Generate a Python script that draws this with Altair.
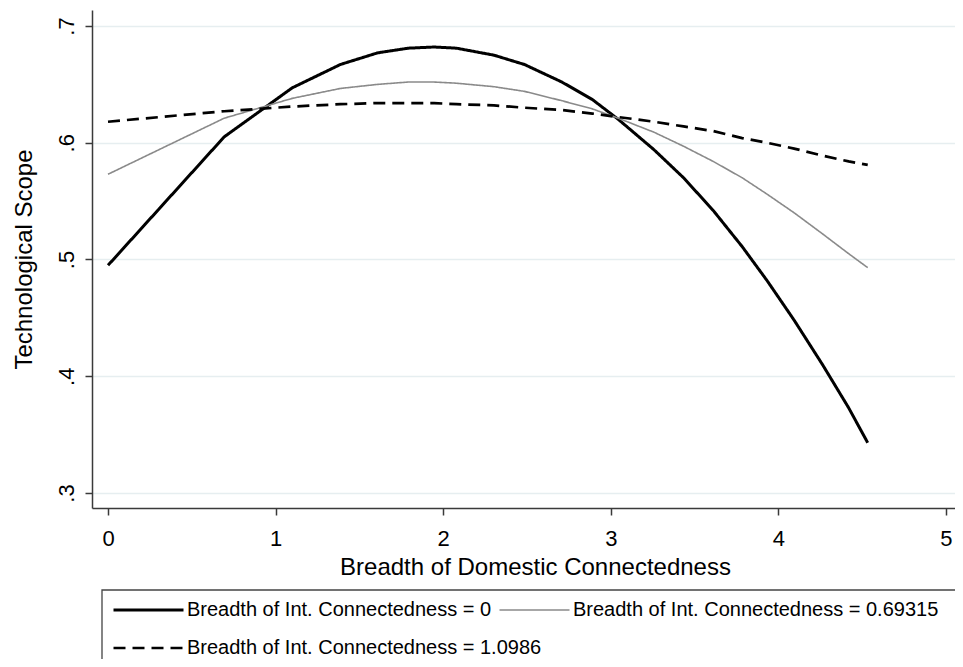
import altair as alt
import pandas as pd

# Breadth of Domestic Connectedness (x positions of the predicted points)
x_vals = [0.0, 0.693, 1.099, 1.386, 1.609, 1.792, 1.946, 2.079, 2.303, 2.485, 2.708,
          2.890, 3.045, 3.258, 3.434, 3.611, 3.784, 3.932, 4.094, 4.263, 4.419, 4.533]

# Technological Scope, one list per level of international connectedness
scope_int_0 = [0.495, 0.605, 0.647, 0.667, 0.677, 0.681, 0.682, 0.681, 0.675, 0.667, 0.652,
               0.637, 0.620, 0.594, 0.570, 0.542, 0.511, 0.482, 0.448, 0.410, 0.373, 0.343]
scope_int_069 = [0.573, 0.621, 0.638, 0.6465, 0.650, 0.652, 0.652, 0.651, 0.648, 0.644, 0.636,
                 0.629, 0.621, 0.609, 0.597, 0.584, 0.570, 0.556, 0.540, 0.522, 0.505, 0.493]
scope_int_110 = [0.618, 0.627, 0.631, 0.633, 0.634, 0.634, 0.634, 0.633, 0.632, 0.630, 0.628,
                 0.625, 0.622, 0.618, 0.614, 0.610, 0.604, 0.600, 0.595, 0.589, 0.584, 0.581]

series_labels = ["Breadth of Int. Connectedness = 0",
                 "Breadth of Int. Connectedness = 0.69315",
                 "Breadth of Int. Connectedness = 1.0986"]
x_ticks = [0, 1, 2, 3, 4, 5]
y_ticks = [0.3, 0.4, 0.5, 0.6, 0.7]

rows = []
for lab, ys in zip(series_labels, [scope_int_0, scope_int_069, scope_int_110]):
    for i, (xv, yv) in enumerate(zip(x_vals, ys)):
        rows.append({"series": lab, "series_dash": lab, "x": xv, "scope": yv, "ord": i})
df = pd.DataFrame(rows)

FONT = "Liberation Sans"

common = dict(
    title=None, orient="none", direction="horizontal",
    symbolType="stroke", symbolSize=4900, clipHeight=22, columnPadding=6,
    labelOffset=2, labelFontSize=20, labelFont=FONT, labelColor="black",
    labelLimit=800, padding=10, symbolOpacity=1,
)
# first legend row: the two solid lines
leg_row1 = alt.Legend(legendX=10, legendY=579, columns=2,
                      values=series_labels[:2], **common)
# second legend row: the dashed line
leg_row2 = alt.Legend(legendX=10, legendY=617, columns=1,
                      values=series_labels[2:], symbolStrokeColor="black",
                      symbolStrokeWidth=2.6, **common)

# dash scale listed in its own order so that its legend stays separate
dash_domain = [series_labels[2], series_labels[0], series_labels[1]]

lines = alt.Chart(df).mark_line(strokeCap="butt").encode(
    x=alt.X("x:Q",
            scale=alt.Scale(domain=[-0.0955, 5.0537], nice=False, zero=False),
            axis=alt.Axis(values=x_ticks, title="Breadth of Domestic Connectedness",
                          grid=False, labelPadding=13, titleX=443, titleY=66,
                          titleBaseline="alphabetic", titleAlign="center")),
    y=alt.Y("scope:Q",
            scale=alt.Scale(domain=[0.28715, 0.7137], nice=False, zero=False),
            axis=alt.Axis(values=y_ticks, title="Technological Scope",
                          labelExpr="replace(format(datum.value, '.1f'), '0.', '.')",
                          labelAngle=270, labelAlign="center", labelBaseline="alphabetic",
                          labelPadding=12, grid=True, titleX=-61, titleY=249,
                          titleAngle=270, titleBaseline="alphabetic", titleAlign="center")),
    color=alt.Color("series:N",
                    scale=alt.Scale(domain=series_labels, range=["#000000", "#8a8a8a", "#000000"]),
                    legend=leg_row1),
    strokeWidth=alt.StrokeWidth("series:N",
                                scale=alt.Scale(type="ordinal", domain=series_labels,
                                                range=[3, 1.6, 2.7]),
                                legend=leg_row1),
    strokeDash=alt.StrokeDash("series_dash:N",
                              scale=alt.Scale(domain=dash_domain, range=[[12, 7], [1, 0], [1, 0]]),
                              legend=leg_row2),
    order="ord:Q",
)

# frame around the legend area (partly outside the visible canvas, as in the original)
frame = alt.Chart(pd.DataFrame({"k": [0]})).mark_rect(
    fill="white", fillOpacity=0, stroke="#444444", strokeWidth=1.3
).encode(
    x=alt.value(10), x2=alt.value(880), y=alt.value(580), y2=alt.value(720)
)

chart = alt.layer(frame, lines).properties(
    width=863, height=498,
    padding={"left": 84, "top": 2, "right": 0, "bottom": 151},
    autosize="none",
    background="white",
).configure_view(
    strokeWidth=0
).configure_axis(
    labelFont=FONT, labelFontSize=22, labelColor="black",
    titleFont=FONT, titleFontSize=24, titleColor="black", titleFontWeight="normal",
    domainColor="#3a3a3a", domainWidth=1.5, tickColor="#3a3a3a", tickWidth=1.5, tickSize=7,
    gridColor="#e6eef0", gridWidth=1.5,
)

chart.save("out.html", embed_options={"renderer": "svg", "actions": False})
